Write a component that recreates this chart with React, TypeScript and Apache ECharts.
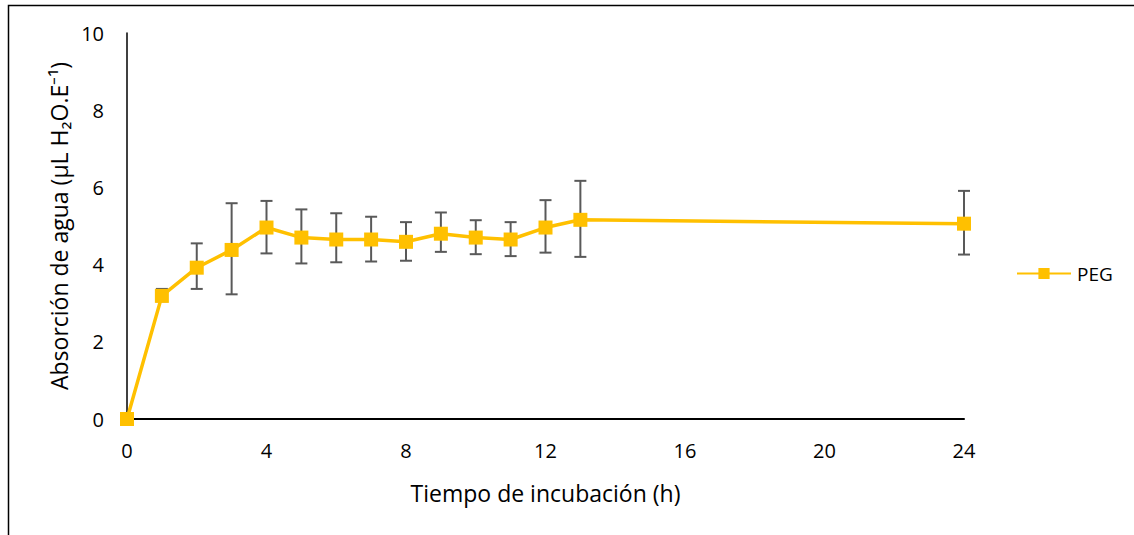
import React, { useEffect, useRef } from "react";
import * as echarts from "echarts";

const hours = [0, 1, 2, 3, 4, 5, 6, 7, 8, 9, 10, 11, 12, 13, 24];
const pegMean = [0, 3.19, 3.92, 4.38, 4.96, 4.70, 4.65, 4.65, 4.59, 4.80, 4.70, 4.65, 4.96, 5.16, 5.06];
const pegLow = [0, 3.05, 3.37, 3.23, 4.29, 4.03, 4.06, 4.08, 4.10, 4.33, 4.27, 4.22, 4.31, 4.20, 4.26];
const pegHigh = [0, 3.37, 4.55, 5.59, 5.65, 5.43, 5.33, 5.24, 5.10, 5.35, 5.15, 5.10, 5.67, 6.17, 5.91];
const xTicks = [0, 4, 8, 12, 16, 20, 24];
const yTicks = [0, 2, 4, 6, 8, 10];

const FONT = "Open Sans";

export default function App() {
  const ref = useRef<HTMLDivElement>(null);
  useEffect(() => {
    const chart = echarts.init(ref.current!, null, { renderer: "svg" });
    const lineData = hours.map((h, i) => [h, pegMean[i]]);
    const errData = hours.map((h, i) => [h, pegLow[i], pegHigh[i]]);
    chart.setOption({
      animation: false,
      textStyle: { fontFamily: FONT },
      graphic: [
        {
          type: "rect",
          shape: { x: 8.5, y: 5.5, width: 1200, height: 600 },
          style: { fill: "none", stroke: "#000", lineWidth: 1.5 },
          silent: true,
        },
      ],
      grid: { left: 127, right: 170, top: 33, bottom: 116 },
      legend: {
        left: 1011,
        top: 259,
        itemWidth: 54,
        itemHeight: 14,
        itemGap: 10,
        data: ["PEG"],
        textStyle: { fontFamily: FONT, fontSize: 19, color: "#000", padding: [0, 0, 0, 1] },
      },
      xAxis: {
        type: "value",
        min: 0,
        max: 24,
        interval: 4,
        name: "Tiempo de incubación (h)",
        nameLocation: "middle",
        nameGap: 62,
        nameTextStyle: { fontFamily: FONT, fontSize: 23, color: "#000" },
        axisLine: { show: true, lineStyle: { color: "#000", width: 2 } },
        axisTick: { show: false },
        splitLine: { show: false },
        axisLabel: {
          fontFamily: FONT,
          fontSize: 20,
          color: "#000",
          margin: 21,
          customValues: xTicks,
          formatter: (v: number) => String(v),
        },
      },
      yAxis: {
        type: "value",
        min: 0,
        max: 10,
        interval: 2,
        name: "Absorción de agua (µL H₂O.E⁻¹)",
        nameLocation: "middle",
        nameGap: 52,
        nameTextStyle: { fontFamily: FONT, fontSize: 23, color: "#000" },
        axisLine: { show: true, lineStyle: { color: "#000", width: 1.5 } },
        axisTick: { show: false },
        splitLine: { show: false },
        axisLabel: {
          fontFamily: FONT,
          fontSize: 20,
          color: "#000",
          margin: 23,
          customValues: yTicks,
        },
      },
      series: [
        {
          name: "errors",
          type: "custom",
          z: 1,
          silent: true,
          data: errData,
          renderItem: (params: any, api: any) => {
            const x = api.value(0);
            const lo = api.coord([x, api.value(1)]);
            const hi = api.coord([x, api.value(2)]);
            const cap = 6;
            const style = { stroke: "#595959", lineWidth: 2 };
            return {
              type: "group",
              children: [
                { type: "line", shape: { x1: lo[0], y1: lo[1], x2: hi[0], y2: hi[1] }, style },
                { type: "line", shape: { x1: hi[0] - cap, y1: hi[1], x2: hi[0] + cap, y2: hi[1] }, style },
                { type: "line", shape: { x1: lo[0] - cap, y1: lo[1], x2: lo[0] + cap, y2: lo[1] }, style },
              ],
            };
          },
        },
        {
          name: "PEG",
          type: "line",
          z: 3,
          data: lineData,
          symbol: "rect",
          symbolSize: 14,
          lineStyle: { color: "#FFC000", width: 3.5 },
          itemStyle: { color: "#FFC000" },
        },
      ],
    });
    return () => chart.dispose();
  }, []);
  return (
    <div
      ref={ref}
      style={{ position: "absolute", left: 0, top: 0, width: 1134, height: 535, background: "#fff" }}
    />
  );
}
